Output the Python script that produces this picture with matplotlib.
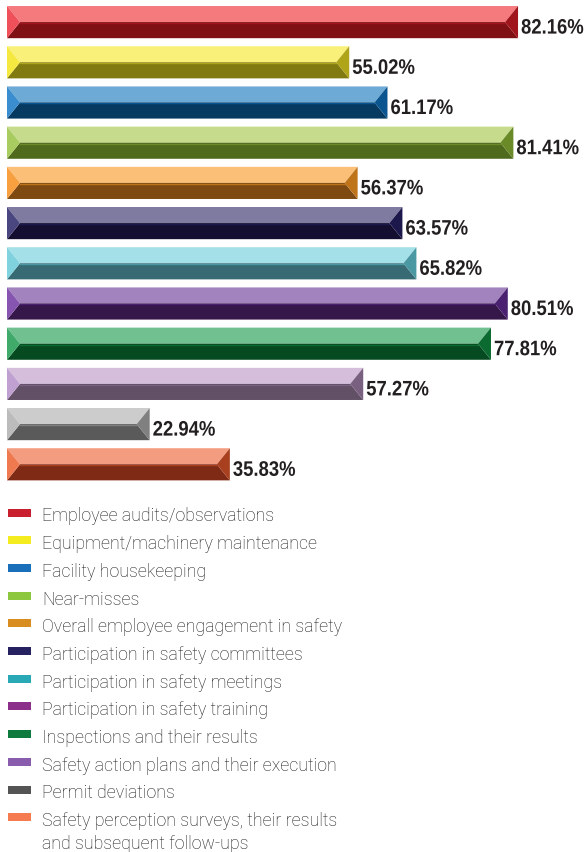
import matplotlib
matplotlib.use("Agg")
import matplotlib.pyplot as plt
from matplotlib.font_manager import FontProperties
from matplotlib.patches import Polygon, Rectangle, PathPatch
from matplotlib.textpath import TextPath
from matplotlib.transforms import Affine2D

# Safety metrics tracked, share of respondents (%)
categories = [
    "Employee audits/observations",
    "Equipment/machinery maintenance",
    "Facility housekeeping",
    "Near-misses",
    "Overall employee engagement in safety",
    "Participation in safety committees",
    "Participation in safety meetings",
    "Participation in safety training",
    "Inspections and their results",
    "Safety action plans and their execution",
    "Permit deviations",
    "Safety perception surveys, their results\nand subsequent follow-ups",
]
values = [82.16, 55.02, 61.17, 81.41, 56.37, 63.57, 65.82, 80.51, 77.81, 57.27, 22.94, 35.83]

# legend swatch colours
legend_colors = ["#c8202f", "#f5ec20", "#1a6fba", "#8dc63f", "#d98c20", "#262262",
                 "#29a9b5", "#8b2f8a", "#0e7a3e", "#8a5cad", "#545454", "#f47c50"]
# bevel shades per bar: top, bottom, left end, right end
top_colors = ["#f47a7e", "#f9f07a", "#6eaad6", "#c6dc8c", "#fbbf78", "#7e7aa0",
              "#a4e0e8", "#a283bd", "#70c090", "#d4bedc", "#cccccc", "#f49c80"]
bottom_colors = ["#7f1014", "#807a10", "#063a60", "#4f6a1c", "#7e4a12", "#140f30",
                 "#386a74", "#35174a", "#064a22", "#625066", "#5a5a5a", "#7e2a14"]
left_colors = ["#f0505a", "#f5e840", "#3a8ed0", "#a8cc60", "#f8a040", "#4a4680",
               "#7fd2de", "#8655b0", "#40aa6a", "#c0a0d0", "#bcbcbc", "#f07a50"]
right_colors = ["#a0141c", "#b0a418", "#0a5590", "#6a8a28", "#c0741a", "#1c184c",
                "#4a98a2", "#4a2070", "#0a6a30", "#7a6080", "#808080", "#a84020"]

W, H = 586, 853
fig = plt.figure(figsize=(W / 100, H / 100), dpi=100)

ax_left, ax_top = 7, 3
px_per_unit = 6.22
row_px = 40.2
xmax = 93
n = len(values)
ax = fig.add_axes([ax_left / W, 1 - (ax_top + n * row_px) / H,
                   xmax * px_per_unit / W, n * row_px / H])
ax.set_xlim(0, xmax)
ax.set_ylim(n - 0.5, -0.5)
ax.axis("off")

bar_h = 0.8
bevel = 13 / px_per_unit  # bevel width in data units

# value labels: bold face squeezed horizontally to get a condensed look
label_prop = FontProperties(family="Liberation Sans", weight="bold")
label_size = 21
label_squeeze = 0.88

for i, v in enumerate(values):
    top, bot, mid = i - bar_h / 2, i + bar_h / 2, i
    ax.add_patch(Polygon([(0, top), (v, top), (v - bevel, mid), (bevel, mid)],
                         closed=True, fc=top_colors[i], ec="none"))
    ax.add_patch(Polygon([(0, bot), (v, bot), (v - bevel, mid), (bevel, mid)],
                         closed=True, fc=bottom_colors[i], ec="none"))
    ax.plot([bevel, v - bevel], [mid + 0.02, mid + 0.02], color=right_colors[i], lw=1)
    ax.add_patch(Polygon([(0, top), (bevel, mid), (0, bot)],
                         closed=True, fc=left_colors[i], ec="none"))
    ax.add_patch(Polygon([(v, top), (v - bevel, mid), (v, bot)],
                         closed=True, fc=right_colors[i], ec="none"))

    tp = TextPath((0, 0), f"{v:.2f}%", size=label_size, prop=label_prop)
    x_px, y_px = ax.transData.transform((v, i))
    tf = Affine2D().scale(label_squeeze, 1).translate(x_px + 3, y_px - 11.5)
    fig.add_artist(PathPatch(tp, transform=tf, fc="#231f20", lw=0))

# legend drawn row by row, wrapped labels line by line
leg_y0 = 513.5
leg_step = 27.7
line_px = 23
for i, (label, c) in enumerate(zip(categories, legend_colors)):
    yc = leg_y0 + i * leg_step
    fig.patches.append(Rectangle((8 / W, 1 - (yc + 4) / H), 23 / W, 8 / H,
                                 transform=fig.transFigure, fc=c, ec="none"))
    for j, line in enumerate(label.split("\n")):
        fig.text(42 / W, 1 - (yc + 8 + j * line_px) / H, line, ha="left", va="baseline",
                 fontsize=12.8, family="Roboto", fontweight="light", color="#1a1a1a")

fig.savefig("out.png", dpi=100)
